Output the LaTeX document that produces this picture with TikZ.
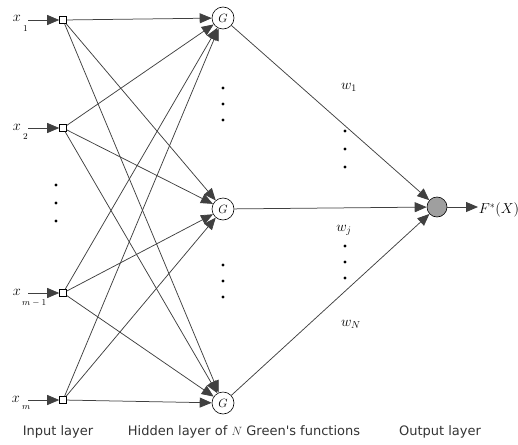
\documentclass[tikz,border=0pt]{standalone}
\usepackage{fontspec}
\newfontfamily\labfont{DejaVu Sans}
\usetikzlibrary{arrows.meta}
\begin{document}
\begin{tikzpicture}[x=1pt,y=-1pt,
  inp/.style={draw, rectangle, minimum size=7pt, inner sep=0pt, line width=0.6pt},
  hid/.style={draw, circle, minimum size=22pt, inner sep=0pt, line width=0.6pt, font=\fontsize{12}{12}\selectfont},
  outn/.style={draw, circle, fill=gray!75, minimum size=20pt, inner sep=0pt, line width=0.6pt},
  conn/.style={line width=0.75pt, draw=black!75},
  arr/.style={conn, -{Triangle[length=12pt,width=10pt]}},
  dotn/.style={circle, fill=black, inner sep=0pt, minimum size=3.2pt},
  lab/.style={font=\labfont\fontsize{13}{15}\selectfont, text=black!80},
  xl/.style={anchor=base east, inner sep=0pt, font=\fontsize{14}{14}\selectfont},
  xs/.style={anchor=north west, inner sep=0pt, font=\fontsize{9}{9}\selectfont},
  wl/.style={font=\fontsize{14}{14}\selectfont}]
\useasboundingbox (0,0) rectangle (518,444);

% input nodes
\node[inp] (i1) at (63,20) {};
\node[inp] (i2) at (63,128) {};
\node[inp] (i3) at (63,293) {};
\node[inp] (i4) at (63,400) {};

% input labels and arrows
\node[xl] (x1) at (21,22) {$x$};
\node[xs] (x1s) at (23,25) {$1$};
\node[xl] (x2) at (21,130) {$x$};
\node[xs] (x2s) at (23,133) {$2$};
\node[xl] (x3) at (21,295) {$x$};
\node[xs] (x3s) at (22,299) {$m-1$};
\node[xl] (x4) at (20,402) {$x$};
\node[xs] (x4s) at (22,405) {$m$};
\coordinate (s1) at (28,20);
\coordinate (s2) at (28,128);
\coordinate (s3) at (28,293);
\coordinate (s4) at (28,400);
\foreach \k in {1,2,3,4} \draw[arr] (s\k) -- (i\k);

% input dots
\node[dotn] (di1) at (56,185) {};
\node[dotn] (di2) at (56,203) {};
\node[dotn] (di3) at (56,221) {};

% hidden nodes
\node[hid] (h1) at (223,18) {$G$};
\node[hid] (h2) at (223,209) {$G$};
\node[hid] (h3) at (223,403) {$G$};

% hidden dots
\node[dotn] (dh1) at (223,88) {};
\node[dotn] (dh2) at (223,104) {};
\node[dotn] (dh3) at (223,120) {};
\node[dotn] (dh4) at (223,265) {};
\node[dotn] (dh5) at (223,281) {};
\node[dotn] (dh6) at (223,297) {};

% input -> hidden
\foreach \i in {i1,i2,i3,i4}
  \foreach \h in {h1,h2,h3}
    \draw[arr] (\i) -- (\h);

% output node
\node[outn] (o) at (437,207) {};
\foreach \h in {h1,h2,h3} \draw[arr] (\h) -- (o);
\coordinate (oe) at (478,207);
\draw[arr] (o) -- (oe);
\node[font=\fontsize{14}{14}\selectfont] (F) at (499,210) {$F^{*}(X)$};

% weight labels
\node[wl] (w1) at (349,87) {$w_1$};
\node[wl] (wj) at (344,230) {$w_j$};
\node[wl] (wN) at (351,324) {$w_N$};

% output dots
\node[dotn] (do1) at (345,131) {};
\node[dotn] (do2) at (345,149) {};
\node[dotn] (do3) at (345,167) {};
\node[dotn] (do4) at (345,246) {};
\node[dotn] (do5) at (345,262) {};
\node[dotn] (do6) at (345,278) {};

% layer labels
\node[lab] (L1) at (58,432) {Input layer};
\node[lab] (L2) at (244,432) {Hidden layer of $N$ Green's functions};
\node[lab] (L3) at (440,432) {Output layer};
\end{tikzpicture}
\end{document}
